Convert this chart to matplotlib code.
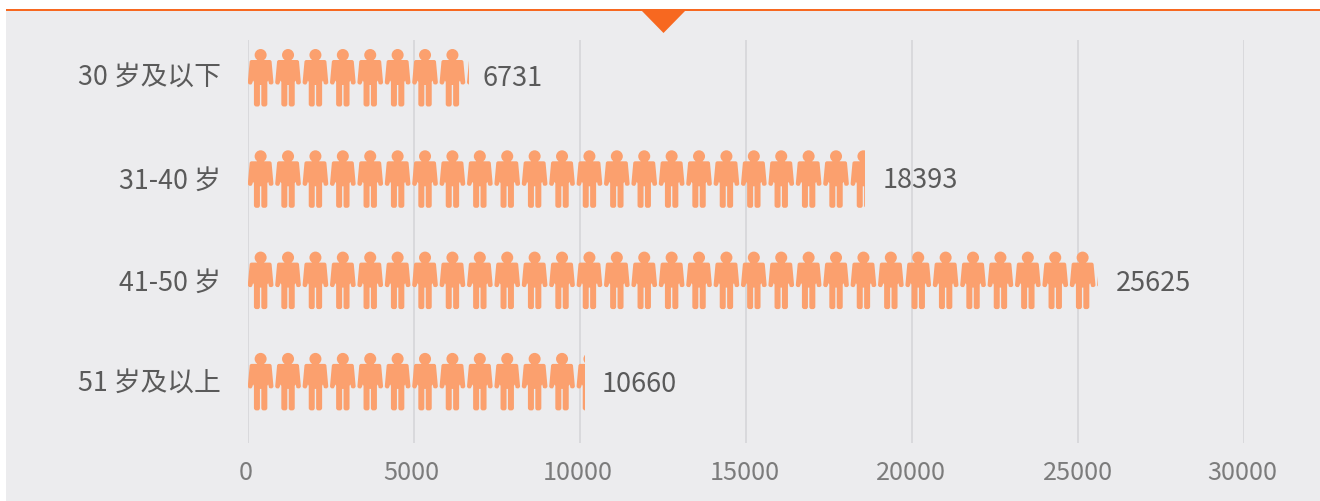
import matplotlib
matplotlib.use("Agg")
import matplotlib.pyplot as plt
from matplotlib.path import Path
from matplotlib.patches import PathPatch, Rectangle, Polygon
from matplotlib.transforms import Affine2D, ScaledTranslation
import math

plt.rcParams['font.family'] = ['Noto Sans CJK SC', 'DejaVu Sans']

# data
categories = ['30 岁及以下', '31-40 岁', '41-50 岁', '51 岁及以上']
labels = [6731, 18393, 25625, 10660]
# drawn bar length, it differs a bit from the label
bar_len = [6640, 18600, 25625, 10160]
ticks = [0, 5000, 10000, 15000, 20000, 25000, 30000]

W, H = 1320, 501
orange = '#f76820'
person_col = '#fba06e'
panel = '#ececee'

fig = plt.figure(figsize=(W / 100, H / 100), dpi=100, facecolor='white')

# grey panel, top line and little triangle (behind the axes)
fig.add_artist(Rectangle((6 / W, 0), (W - 6) / W, 1 - 10 / H, transform=fig.transFigure, fc=panel, ec='none', zorder=-3))
fig.add_artist(Rectangle((6 / W, 1 - 11 / H), (W - 6) / W, 2 / H, transform=fig.transFigure, fc=orange, ec='none', zorder=-2))
fig.add_artist(Polygon([(641 / W, 1 - 10 / H), (686 / W, 1 - 10 / H), (663.5 / W, 1 - 33 / H)],
                       transform=fig.transFigure, fc=orange, ec='none', zorder=-2))

# axes box in pixels
left, right, top, bottom = 248.3, 1243.5, 40, 443
ax = fig.add_axes([left / W, 1 - bottom / H, (right - left) / W, (bottom - top) / H])
ax.patch.set_alpha(0)
ax.set_xlim(0, 30000)
row_px = 101.3
ax.set_ylim((bottom - 78.5) / row_px, (top - 78.5) / row_px)

for s in ax.spines.values():
    s.set_visible(False)
ax.set_xticks(ticks)
ax.set_yticks(range(len(categories)))
ax.set_yticklabels(categories, fontsize=19.3, color='#5a5a5a', va='center_baseline')
ax.set_xticklabels([str(t) for t in ticks], fontsize=18.2, color='#7c7c7c')
ax.tick_params(axis='both', length=0)
ax.tick_params(axis='x', pad=12)
ax.tick_params(axis='y', pad=20)
ax.xaxis.grid(True, color='#d6d6d9', lw=1.2)
ax.set_axisbelow(True)

# x labels sit a little left of their gridline in the reference
tick_dx = [-3, -3, -2, -1, -1, 0, -1]
for lab, dx in zip(ax.get_xticklabels(), tick_dx):
    lab.set_transform(lab.get_transform() + ScaledTranslation(dx / 100, 0, fig.dpi_scale_trans))

# row texts sit a bit higher than the middle of the people
text_up = [3, 2, 1, 1]
for lab, up in zip(ax.get_yticklabels(), text_up):
    lab.set_transform(lab.get_transform() + ScaledTranslation(0, up / 100, fig.dpi_scale_trans))


# person symbol, units are pixels, x=0 is the middle, y=0 top of the head
def person_path():
    k = 0.5523
    r = 6
    cy = 6
    v = [(0, cy - r),
         (k * r, cy - r), (r, cy - k * r), (r, cy),
         (r, cy + k * r), (k * r, cy + r), (0, cy + r),
         (-k * r, cy + r), (-r, cy + k * r), (-r, cy),
         (-r, cy - k * r), (-k * r, cy - r), (0, cy - r)]
    c = [Path.MOVETO] + [Path.CURVE4] * 12
    side = [(-7.5, 11), (9, 11), (11, 11), (11, 13), (12.8, 33), (13, 35.5), (10.5, 35.5),
            (9.5, 35.5), (8.5, 35), (8, 33), (7.5, 31.5), (6.7, 33), (6.7, 55),
            (6.7, 57.5), (4.2, 57.5), (2.8, 57.5), (0.7, 57.5), (0.7, 55), (0.7, 36),
            (-0.7, 36), (-0.7, 55), (-0.7, 57.5), (-2.8, 57.5), (-4.2, 57.5),
            (-6.7, 57.5), (-6.7, 55), (-6.7, 33), (-7.5, 31.5), (-8, 33),
            (-8.5, 35), (-9.5, 35.5), (-10.5, 35.5), (-13, 35.5), (-12.8, 33),
            (-11, 13), (-11, 11), (-9, 11), (-7.5, 11)]
    sc = [Path.MOVETO, Path.LINETO, Path.CURVE3, Path.CURVE3, Path.LINETO, Path.CURVE3, Path.CURVE3,
          Path.CURVE3, Path.CURVE3, Path.LINETO, Path.LINETO, Path.LINETO, Path.LINETO,
          Path.CURVE3, Path.CURVE3, Path.LINETO, Path.CURVE3, Path.CURVE3, Path.LINETO,
          Path.LINETO, Path.LINETO, Path.CURVE3, Path.CURVE3, Path.LINETO,
          Path.CURVE3, Path.CURVE3, Path.LINETO, Path.LINETO, Path.LINETO,
          Path.CURVE3, Path.CURVE3, Path.LINETO, Path.CURVE3, Path.CURVE3,
          Path.LINETO, Path.CURVE3, Path.CURVE3, Path.CLOSEPOLY]
    return Path(v + side, c + sc)


shape = person_path()
px_per_unit = (right - left) / 30000
pitch = 27.4 / px_per_unit
to_data = Affine2D().scale(1 / px_per_unit, 1 / row_px)
gap = [10, 12.7, 12.7, 11.4]

for i, n in enumerate(bar_len):
    clip = Rectangle((0, i - 0.5), n, 1, transform=ax.transData)
    for j in range(math.ceil(n / pitch)):
        x = (j + 0.45) * pitch
        p = PathPatch(shape, fc=person_col, ec='none', zorder=3,
                      transform=to_data + Affine2D().translate(x, i - 29.5 / row_px) + ax.transData)
        ax.add_patch(p)
        p.set_clip_path(clip)
    ax.annotate(str(labels[i]), (n, i), xytext=(gap[i], text_up[i] * 0.72), textcoords='offset points',
                fontsize=19.5, color='#5a5a5a', va='center_baseline', ha='left')

fig.savefig('out.png', dpi=100)
